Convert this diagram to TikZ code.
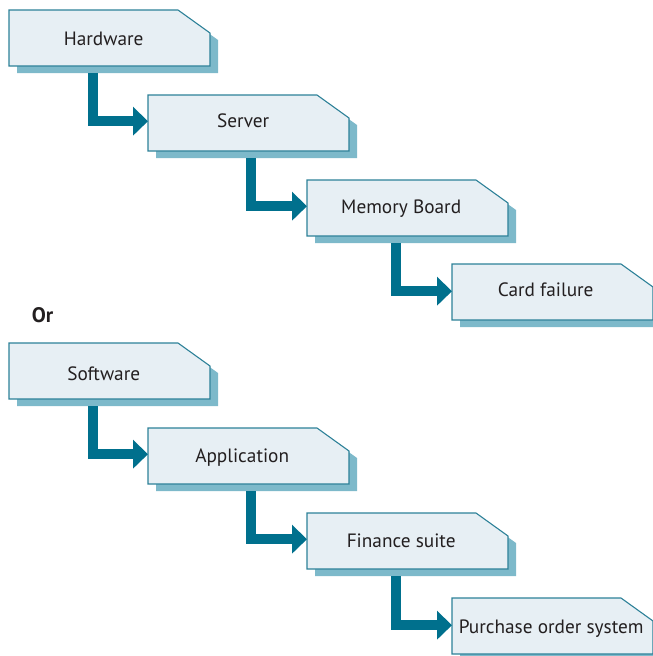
\documentclass[tikz,border=0pt]{standalone}
\usepackage{fontspec}
\setmainfont{PT Sans}
\usetikzlibrary{arrows.meta}
\definecolor{boxfill}{HTML}{E7EFF4}
\definecolor{boxedge}{HTML}{2D8198}
\definecolor{shadowc}{HTML}{7DB9CA}
\definecolor{arrowc}{HTML}{00708D}
\definecolor{txt}{HTML}{231F20}
\tikzset{
  boxnode/.style={minimum width=201pt, minimum height=56pt, inner sep=0pt, anchor=north west,
    font=\fontsize{19.3}{22}\selectfont, text=txt},
  boxline/.style={draw=boxedge, fill=boxfill, line width=1.1pt, line join=miter},
  shadowfill/.style={fill=shadowc},
  conn/.style={draw=arrowc, line width=10pt, line join=miter, line cap=butt,
    -{Triangle[width=28pt,length=15pt]}},
}
% #1 name, #2 left, #3 top, #4 text, #5 horizontal shift, #6 baseline below centre
\newcommand\flowbox[6]{%
  \fill[shadowfill] (#2+8,#3+7) -- (#2+8+169,#3+7) -- (#2+8+201,#3+7+23) -- (#2+8+201,#3+7+56) -- (#2+8,#3+7+56) -- cycle;
  \path[boxline] (#2,#3) -- (#2+169,#3) -- (#2+201,#3+23) -- (#2+201,#3+56) -- (#2,#3+56) -- cycle;
  \node[boxnode] (#1) at (#2,#3) {\raisebox{-#6}[0pt][0pt]{\hspace*{#5}#4}};
}
\begin{document}
\begin{tikzpicture}[x=1pt,y=-1pt]
\useasboundingbox (0,0) rectangle (653,656);
% upper group
\flowbox{hw}{9}{10}{Hardware}{-12pt}{7.7pt}
\flowbox{srv}{148}{95}{Server}{-11pt}{4.4pt}
\flowbox{mem}{307}{180}{Memory Board}{-13pt}{5pt}
\flowbox{card}{452}{264}{Card failure}{-14pt}{4.6pt}
\draw[conn] ([xshift=84pt,yshift=-7pt]hw.south west) |- ([yshift=2pt]srv.west);
\draw[conn] ([xshift=103pt,yshift=-7pt]srv.south west) |- ([yshift=2pt]mem.west);
\draw[conn] ([xshift=89pt,yshift=-7pt]mem.south west) |- ([yshift=1pt]card.west);
% label
\node[font=\fontsize{21}{24}\selectfont\bfseries, text=txt, inner sep=0pt] (or) at (42.5,315) {Or};
% lower group
\flowbox{sw}{9}{343}{Software}{-12pt}{9.5pt}
\flowbox{app}{148}{428}{Application}{-13pt}{6.3pt}
\flowbox{fin}{307}{513}{Finance suite}{-13pt}{6pt}
\flowbox{pos}{452}{598}{Purchase order system}{-3pt}{7.5pt}
\draw[conn] ([xshift=84pt,yshift=-7pt]sw.south west) |- ([yshift=2pt]app.west);
\draw[conn] ([xshift=103pt,yshift=-7pt]app.south west) |- ([yshift=2pt]fin.west);
\draw[conn] ([xshift=89pt,yshift=-7pt]fin.south west) |- ([yshift=1pt]pos.west);
\end{tikzpicture}
\end{document}
